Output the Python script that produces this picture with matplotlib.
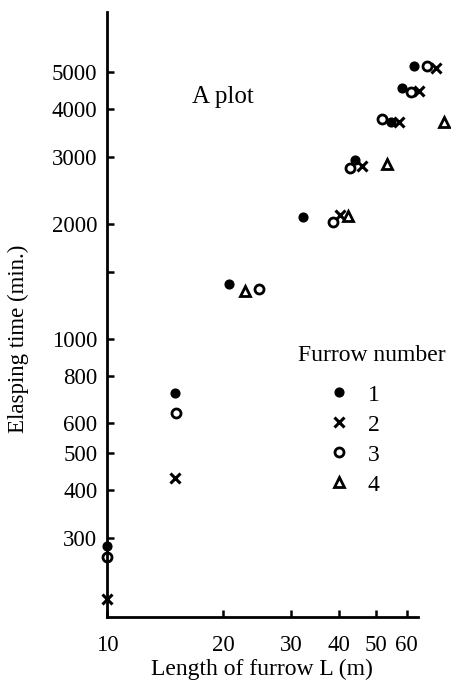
import numpy as np
import matplotlib
matplotlib.use("Agg")
import matplotlib.pyplot as plt
from matplotlib.ticker import FixedLocator, NullLocator

plt.rcParams['font.family'] = ['Liberation Serif', 'DejaVu Serif']

# -------------------------
# DATA
# -------------------------
furrow1_x = [10, 15.0, 20.7, 32.3, 44.1, 54.7, 58.3, 62.7]
furrow1_y = [286, 718, 1394, 2091, 2951, 3715, 4560, 5180]

furrow2_x = [10, 15.0, 40.3, 45.9, 57.3, 64.6, 71.6]
furrow2_y = [208, 430, 2114, 2845, 3715, 4480, 5120]

furrow3_x = [10, 15.1, 24.8, 38.6, 42.8, 51.8, 61.6, 67.8]
furrow3_y = [268, 640, 1352, 2028, 2812, 3780, 4445, 5180]

furrow4_x = [22.8, 42.3, 53.3, 75.0]
furrow4_y = [1337, 2103, 2878, 3715]

x_ticks = [10, 20, 30, 40, 50, 60]
y_ticks = [300, 400, 500, 600, 800, 1000, 1500, 2000, 3000, 4000, 5000]
y_tick_labels = ['300', '400', '500', '600', '800', '1000', '', '2000', '3000', '4000', '5000']

# -------------------------
# FIGURE
# -------------------------
fig = plt.figure(figsize=(4.52, 6.82), dpi=100)
ax = fig.add_axes([0.2367, 0.0953, 0.7603, 0.8871])

ax.set_xscale('log')
ax.set_yscale('log')
ax.set_xlim(10, 78)
ax.set_ylim(186, 7200)

ms = dict(clip_on=False, linestyle='none', color='black')
h1, = ax.plot(furrow1_x, furrow1_y, marker='o', markersize=6.3, label='1', **ms)
h2, = ax.plot(furrow2_x, furrow2_y, marker='x', markersize=6.5, markeredgewidth=2.2, label='2', **ms)
h3, = ax.plot(furrow3_x, furrow3_y, marker='o', markersize=6.5, markerfacecolor='white',
              markeredgewidth=2, label='3', **ms)
h4, = ax.plot(furrow4_x, furrow4_y, marker='^', markersize=7.5, markerfacecolor='white',
              markeredgewidth=2, label='4', **ms)

# axes styling
for side in ['top', 'right']:
    ax.spines[side].set_visible(False)
ax.spines['left'].set_linewidth(2)
ax.spines['bottom'].set_linewidth(2)
ax.spines['bottom'].set_bounds(10, 64)

ax.xaxis.set_major_locator(FixedLocator(x_ticks))
ax.xaxis.set_minor_locator(NullLocator())
ax.set_xticklabels([str(t) for t in x_ticks])
ax.yaxis.set_major_locator(FixedLocator(y_ticks))
ax.yaxis.set_minor_locator(NullLocator())
ax.set_yticklabels(y_tick_labels)

ax.tick_params(axis='both', direction='in', length=5, width=1.8, labelsize=16.5)
ax.tick_params(axis='x', pad=13)
ax.tick_params(axis='y', pad=7)

ax.set_xlabel('Length of furrow L (m)', fontsize=17, x=0.45, labelpad=2)
ax.set_ylabel('Elasping time (min.)', fontsize=16.5, y=0.46, labelpad=16)

ax.text(20, 4300, 'A plot', fontsize=18, ha='center', va='center')

# legend
ax.text(0.771, 0.433, 'Furrow number', fontsize=17, ha='center', va='center',
        transform=ax.transAxes)
ax.legend(handles=[h1, h2, h3, h4], loc='upper left', bbox_to_anchor=(0.641, 0.385),
          frameon=False, fontsize=17, handlelength=1, handletextpad=0.72,
          labelspacing=0.36, borderpad=0, borderaxespad=0)

plt.savefig("out.png", dpi=100)
